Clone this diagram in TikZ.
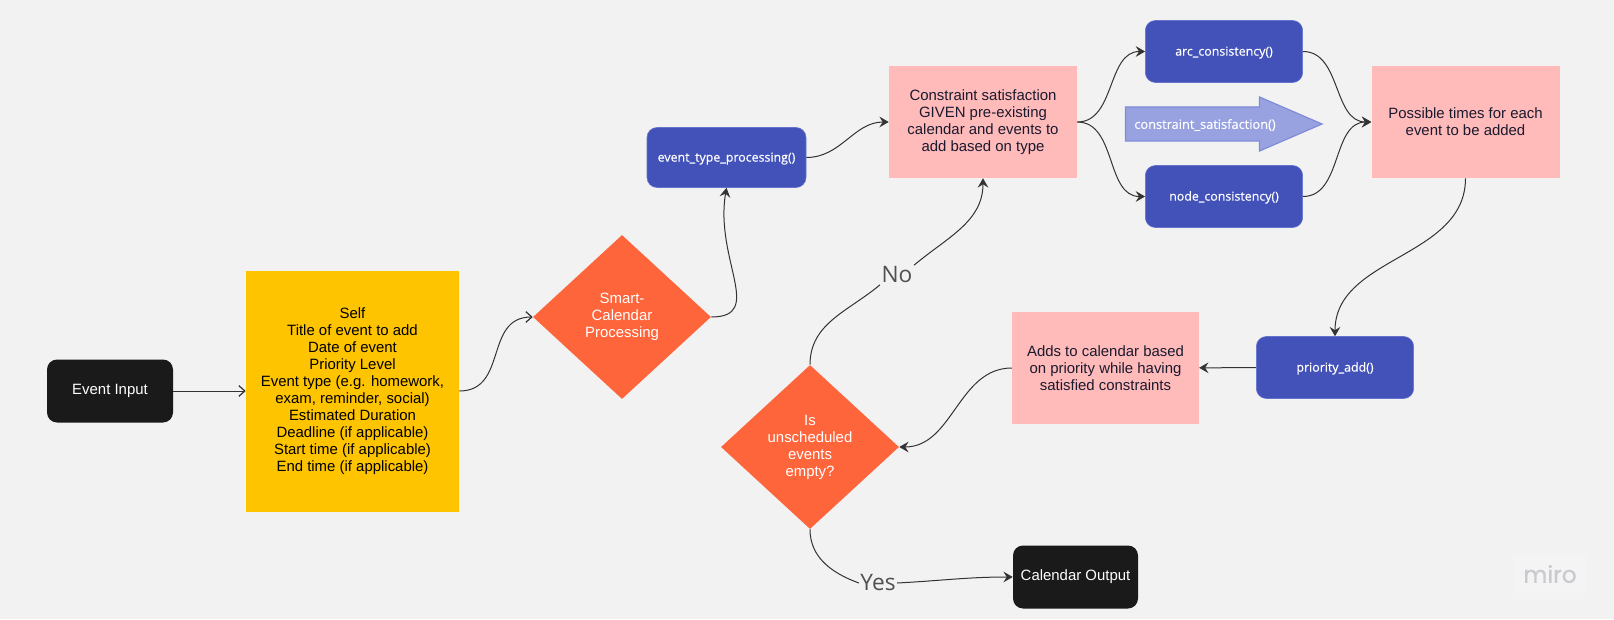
\documentclass[tikz,border=0pt]{standalone}
\usepackage{fontspec}
\setmainfont{Liberation Sans}
\newfontfamily\labelfont{Open Sans}
\newfontfamily\boxfont[FakeBold=0.25]{Open Sans}
\newfontfamily\logofont[FakeBold=0.6]{Poppins}
\usetikzlibrary{shapes.geometric, arrows.meta}
\definecolor{bggray}{HTML}{F2F2F2}
\definecolor{logobox}{HTML}{F4F4F4}
\definecolor{logoink}{HTML}{C9C9CF}
\definecolor{boxblack}{HTML}{1A1A1A}
\definecolor{boxyellow}{HTML}{FEC400}
\definecolor{boxorange}{HTML}{FF653B}
\definecolor{boxpink}{HTML}{FFBABA}
\definecolor{boxblue}{HTML}{4352B9}
\definecolor{edgeblue}{HTML}{6672CC}
\definecolor{arrowblue}{HTML}{98A2E0}
\definecolor{arrowedge}{HTML}{7F8CD8}
\definecolor{flowgray}{HTML}{333333}
\definecolor{labelgray}{HTML}{505050}
\definecolor{inkdark}{HTML}{1A1A2E}
\tikzset{
    bodytext/.style={font=\fontsize{11.2}{12.75}\selectfont, align=center, inner sep=0pt},
    blackbox/.style={bodytext, fill=boxblack, text=white, rounded corners=7.5pt, minimum height=47.25pt},
    bluebox/.style={font=\boxfont\fontsize{9.3}{12}\selectfont, text height=9pt, text depth=2.8pt, inner sep=0pt, fill=boxblue, draw=edgeblue, text=white, rounded corners=7.5pt},
    pinkbox/.style={bodytext, fill=boxpink, text=inkdark, minimum width=141pt, minimum height=84pt},
    yellowbox/.style={bodytext, fill=boxyellow, text=black, minimum width=159.75pt, minimum height=180.75pt},
    decision/.style={bodytext, diamond, fill=boxorange, text=white, minimum width=133.5pt, minimum height=123pt},
    edgelabel/.style={font=\labelfont\fontsize{17}{20}\selectfont, text=labelgray, inner sep=1pt},
    flow/.style={draw=flowgray, line width=0.75pt},
    opentip/.style={flow, -{Straight Barb[length=4.5pt,width=8pt,line width=0.9pt]}},
    flowtip/.style={flow, -{Stealth[length=7pt,width=8pt,inset=2.5pt]}}
}
\begin{document}
\begin{tikzpicture}[x=0.75pt, y=0.75pt]
    \useasboundingbox (0,0) rectangle (1614,619);
    \fill[bggray] (0,0) rectangle (1614,619);

\node (evin) at (110,228)[blackbox, minimum width=94.5pt] {Event Input};
\node (fields) at (352.5,228)[yellowbox] {Self\\Title of event to add\\Date of event\\Priority Level\\Event type (e.g. homework,\\exam, reminder, social)\\Estimated Duration\\Deadline (if applicable)\\Start time (if applicable)\\End time (if applicable)};
\node (smart) at (622,302)[decision] {Smart-\\Calendar\\Processing};
\node (evproc) at (726.5,461.5)[bluebox, minimum width=119.25pt, minimum height=45pt] {event\_type\_processing()};
\node (constr) at (983,497)[pinkbox] {Constraint satisfaction\\GIVEN pre-existing\\calendar and events to\\add based on type};
\node (arccons) at (1224,567.5)[bluebox, minimum width=118pt, minimum height=46.5pt] {arc\_consistency()};
\node (nodecons) at (1224,422.5)[bluebox, minimum width=118pt, minimum height=46.5pt] {node\_consistency()};
\node (possible) at (1465.5,497)[pinkbox] {Possible times for each\\event to be added};
\node (prioadd) at (1335,251.5)[bluebox, minimum width=118pt, minimum height=46.5pt] {priority\_add()};
\node (adds) at (1105.5,251)[pinkbox, minimum width=140pt] {Adds to calendar based\\on priority while having\\satisfied constraints};
\node (isempty) at (810,172)[decision] {Is\\unscheduled\\events\\empty?};
\node (calout) at (1075.5,42)[blackbox, minimum width=93.75pt] {Calendar Output};
\node (lblno) at (897,344)[edgelabel] {No};
\node (lblyes) at (878,36)[edgelabel] {Yes};

\filldraw[fill=arrowblue, draw=arrowedge, line width=0.9pt] (1125.5,478)--(1259.5,478)--(1259.5,468)--(1322,495)--(1259.5,522)--(1259.5,512)--(1125.5,512)--cycle;
\node (csat) at (1205,494)[font=\boxfont\fontsize{9.6}{12}\selectfont, text=white, inner sep=0pt] {constraint\_satisfaction()};

\draw[opentip] (evin)--(fields);
\draw[opentip] (fields.east) to[out=0,in=180,looseness=1.2] (smart.west);
\draw[flowtip] (smart.east) .. controls +(54,0) and +(-12,-72) .. (evproc.south);
\draw[flowtip] (evproc.east) to[out=0,in=180] (constr.west);
\draw[flowtip] (constr.east) to[out=0,in=180] (arccons.west);
\draw[flowtip] (constr.east) to[out=0,in=180] (nodecons.west);
\draw[flowtip] (arccons.east) to[out=0,in=180] (possible.west);
\draw[flowtip] (nodecons.east) to[out=0,in=180] (possible.west);
\draw[flowtip] (possible.south) to[out=-90,in=90] (prioadd.north);
\draw[flowtip] (prioadd)--(adds);
\draw[flowtip] (adds.west) to[out=180,in=0] (isempty.east);
\draw[flow] (isempty.north) to[out=90,in=220] (lblno.south west);
\draw[flowtip] (lblno.north east) to[out=40,in=-90] (constr.south);
\draw[flow] (isempty.south) to[out=-90,in=160] (lblyes.west);
\draw[flowtip] (lblyes.east) to[out=3,in=180] (calout.west);

\fill[logobox] (1513,26) rectangle (1587,64);
\node (logo) at (1550,45)[font=\logofont\fontsize{17.5}{18}\selectfont, text=logoink, inner sep=0pt] {miro};
\end{tikzpicture}
\end{document}
